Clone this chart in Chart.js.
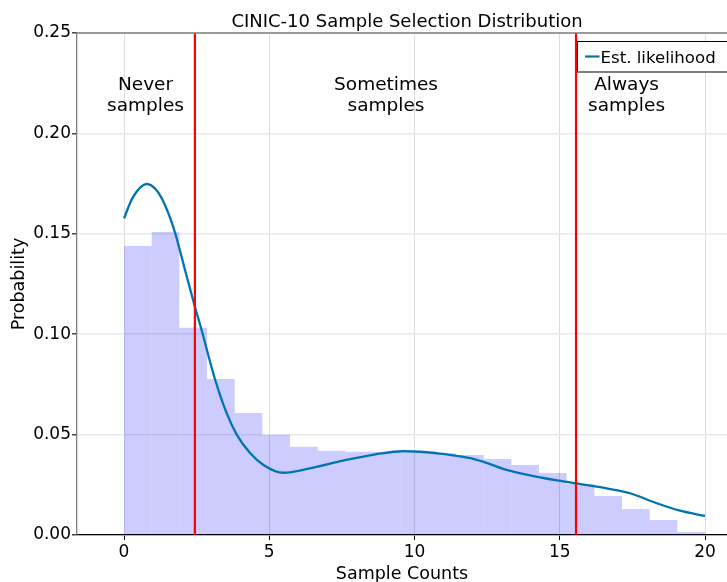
<!DOCTYPE html>
<html><head><meta charset="utf-8">
<script src="https://cdn.jsdelivr.net/npm/chart.js@4.4.1/dist/chart.umd.min.js"></script>
<style>html,body{margin:0;padding:0;background:#fff;overflow:hidden}#wrap{width:727px;height:582px;position:relative}</style>
</head><body><div id="wrap"><canvas id="c"></canvas></div>
<script>
// ---- data ----
const titleText = "CINIC-10 Sample Selection Distribution";
const xLabel = "Sample Counts";
const yLabel = "Probability";
const binCenters = [0.476, 1.429, 2.381, 3.333, 4.286, 5.238, 6.190, 7.143, 8.095, 9.048, 10.000,
                    10.952, 11.905, 12.857, 13.810, 14.762, 15.714, 16.667, 17.619, 18.571, 19.524];
const binProb = [0.1439, 0.1509, 0.1032, 0.0777, 0.0608, 0.0499, 0.0440, 0.0419, 0.0415, 0.0413, 0.0411,
                 0.0407, 0.0399, 0.0378, 0.0348, 0.0309, 0.0254, 0.0194, 0.0129, 0.0075, 0.0015];
const kdeX = [0, 0.3, 0.78, 1.1, 1.41, 1.76, 2.1, 2.44, 2.65, 3.13, 3.53, 3.88, 4.34, 4.8, 5.48, 6.4,
              7.54, 8.7, 9.61, 10.42, 10.88, 11.45, 12.02, 12.6, 13.17, 14.32, 15.56, 16.62, 17.42, 18.34, 19.14, 20];
const kdeY = [0.1577, 0.168, 0.1748, 0.172, 0.1643, 0.1504, 0.132, 0.1137, 0.1032, 0.0777, 0.0608, 0.050, 0.0408, 0.0349, 0.031, 0.0332,
              0.037, 0.0403, 0.0417, 0.0412, 0.0405, 0.0394, 0.0379, 0.0353, 0.0324, 0.0287, 0.0257, 0.0232, 0.0208, 0.0158, 0.0121, 0.0095];
const thresholds = [2.44, 15.56];
const regionLabels = [["Never", "samples"], ["Sometimes", "samples"], ["Always", "samples"]];
const regionX = [0.74, 9.02, 17.3];
const xTicks = [0, 5, 10, 15, 20];
const legendLabel = "Est. likelihood";

const FONT = '"DejaVu Sans", sans-serif';
const curveColor = '#0173b2';

const overlay = {
  id: 'overlay',
  afterDraw(chart) {
    const {ctx, chartArea: ca, scales: {x}} = chart;
    ctx.save();
    // top spine
    ctx.strokeStyle = '#7f7f7f'; ctx.lineWidth = 1.3;
    ctx.beginPath(); ctx.moveTo(ca.left, ca.top); ctx.lineTo(ca.right, ca.top); ctx.stroke();
    // title
    ctx.fillStyle = '#000';
    ctx.font = '18px ' + FONT; ctx.textAlign = 'center'; ctx.textBaseline = 'alphabetic';
    ctx.fillText(titleText, (ca.left + 737) / 2, 26.7);
    // region labels
    ctx.font = '18.5px ' + FONT;
    regionLabels.forEach((lines, i) => {
      const px = x.getPixelForValue(regionX[i]);
      lines.forEach((t, j) => ctx.fillText(t, px, 89.5 + j * 21.7));
    });
    // legend
    const lx = 577.5, ly = 41.5, lh = 30.5;
    ctx.fillStyle = '#fff';
    ctx.fillRect(lx, ly, 200, lh);
    ctx.strokeStyle = '#000'; ctx.lineWidth = 1;
    ctx.strokeRect(lx, ly, 200, lh);
    ctx.strokeStyle = curveColor; ctx.lineWidth = 2.2;
    ctx.beginPath(); ctx.moveTo(lx + 7.5, ly + 15); ctx.lineTo(lx + 22, ly + 15); ctx.stroke();
    ctx.fillStyle = '#000'; ctx.font = '16.6px ' + FONT; ctx.textAlign = 'left';
    ctx.fillText(legendLabel, lx + 23, ly + 21.2);
    ctx.restore();
  }
};

new Chart(document.getElementById('c'), {
  type: 'bar',
  data: {
    datasets: [
      ...thresholds.map(t => ({
        type: 'line', data: [{x: t, y: 0}, {x: t, y: 0.25}],
        borderColor: '#ff0000', borderWidth: 2.2, pointRadius: 0, order: 0, fill: false
      })),
      {
        type: 'line', label: legendLabel,
        data: kdeX.map((v, i) => ({x: v, y: kdeY[i]})),
        borderColor: curveColor, borderWidth: 2.3, pointRadius: 0,
        cubicInterpolationMode: 'monotone', fill: false, order: 1
      },
      {
        type: 'bar',
        data: binCenters.map((v, i) => ({x: v, y: binProb[i]})),
        backgroundColor: 'rgba(0,0,255,0.2)', borderWidth: 0, inflateAmount: 0,
        barPercentage: 1, categoryPercentage: 1, order: 2
      }
    ]
  },
  options: {
    responsive: true, maintainAspectRatio: false, animation: false,
    layout: {padding: {top: 33, left: 0, right: 0, bottom: 0}},
    plugins: {legend: {display: false}, tooltip: {enabled: false}, title: {display: false}},
    scales: {
      x: {
        type: 'linear', min: -1.618, max: 20.757, offset: false,
        afterBuildTicks: s => { s.ticks = xTicks.map(v => ({value: v})); },
        afterFit: s => { s.height = 47; },
        grid: {offset: false, color: '#dcdcdc', lineWidth: 1, tickColor: '#000', tickLength: 5},
        border: {color: '#000', width: 1.3},
        ticks: {color: '#000', font: {family: FONT, size: 17}, padding: 2, maxRotation: 0,
                callback: v => String(v)},
        title: {display: true, text: xLabel, color: '#000', font: {family: FONT, size: 17.5, lineHeight: 1},
                padding: {top: 0, bottom: -1}}
      },
      y: {
        min: 0, max: 0.25,
        afterBuildTicks: s => { s.ticks = [0, 0.05, 0.10, 0.15, 0.20, 0.25].map(v => ({value: v})); },
        afterFit: s => { s.width = 77; },
        grid: {color: '#e9e9e9', lineWidth: 1.5, tickColor: '#444', tickLength: 5},
        border: {color: '#7f7f7f', width: 1.3},
        ticks: {color: '#000', font: {family: FONT, size: 17}, padding: 1,
                callback: v => Number(v).toFixed(2)},
        title: {display: true, text: yLabel, color: '#000', font: {family: FONT, size: 17.5, lineHeight: 1.2},
                padding: {top: 9, bottom: 0}}
      }
    }
  },
  plugins: [overlay]
});
</script>
</body></html>
